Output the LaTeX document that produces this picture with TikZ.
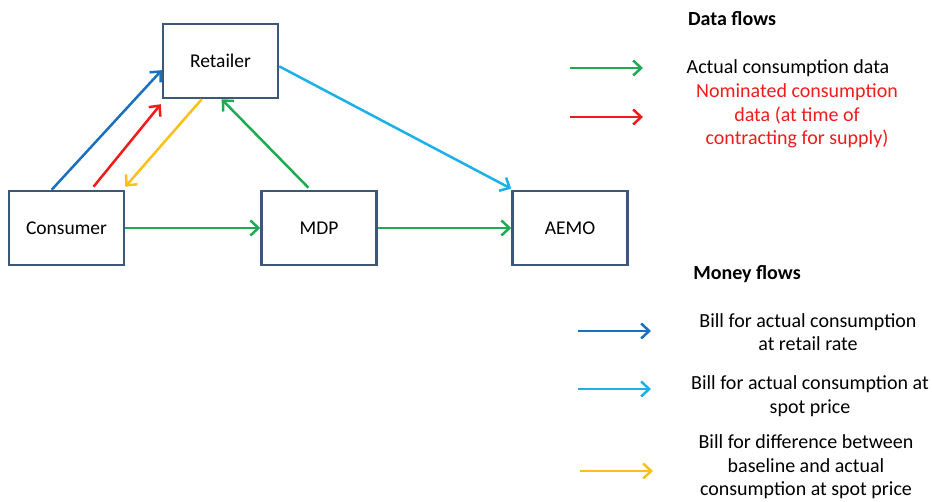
\documentclass[tikz,border=0pt]{standalone}
\usepackage{fontspec}
\setmainfont{Carlito}
\usetikzlibrary{arrows.meta,calc}
\definecolor{boxc}{HTML}{3B5878}
\definecolor{gr}{HTML}{1DAA50}
\definecolor{rd}{HTML}{F01C1C}
\definecolor{yl}{HTML}{F8C01A}
\definecolor{db}{HTML}{1A70BE}
\definecolor{lb}{HTML}{1CB0E8}
\tikzset{
  ent/.style={draw=boxc,line width=2.5pt,minimum width=115pt,minimum height=74pt,inner sep=0pt,font=\fontsize{19.5}{22}\selectfont},
  flow/.style={line width=2.5pt,-{Straight Barb[length=8pt,width=15pt,line width=2.5pt]}},
  lbl/.style={align=center,inner sep=0pt,font=\fontsize{20}{23.5}\selectfont},
  hdr/.style={inner sep=0pt,font=\fontsize{20}{22}\selectfont\bfseries},
}
\begin{document}
\begin{tikzpicture}[x=1pt,y=1pt]
\useasboundingbox (0,0) rectangle (932,502);
% entities
\node[ent] (ret) at (220.5,441) {Retailer};
\node[ent] (cons) at (66.5,274) {Consumer};
\node[ent] (mdp) at (319,274) {MDP};
\node[ent] (aemo) at (570,274) {AEMO};
% connectors
\draw[flow,db] ($(cons.north west)!0.374!(cons.north east)$) -- ($(ret.north west)!0.62!(ret.south west)$);
\draw[flow,rd] ($(cons.north west)!0.73!(cons.north east)+(0,3)$) -- ($(ret.south west)+(-1,-5)$);
\draw[flow,yl] ($(ret.south west)!0.34!(ret.south east)$) -- ($(cons.north east)+(0,3)$);
\draw[flow,gr] ($(mdp.north west)!0.41!(mdp.north east)+(0,2)$) -- ($(ret.south west)!0.51!(ret.south east)$);
\draw[flow,lb] ($(ret.north east)!0.57!(ret.south east)$) -- ($(aemo.north west)+(0,1)$);
\draw[flow,gr] (cons.east) -- (mdp.west);
\draw[flow,gr] (mdp.east) -- (aemo.west);
% legend: data flows
\node[hdr] (hdata) at (732,483) {Data flows};
\coordinate (g1) at (570,434);
\coordinate (g2) at (643,434);
\draw[flow,gr] (g1) -- (g2);
\node[lbl] (tg) at (788,434) {Actual consumption data};
\coordinate (r1) at (570,385);
\coordinate (r2) at (643,385);
\draw[flow,rd] (r1) -- (r2);
\node[lbl,text=rd] (tr) at (797,386) {Nominated consumption\\data (at time of\\contracting for supply)};
% legend: money flows
\node[hdr] (hmoney) at (747,228) {Money flows};
\coordinate (b1) at (578,171);
\coordinate (b2) at (651,171);
\draw[flow,db] (b1) -- (b2);
\node[lbl] (tb) at (808,170) {Bill for actual consumption\\at retail rate};
\coordinate (l1) at (578,113);
\coordinate (l2) at (651,113);
\draw[flow,lb] (l1) -- (l2);
\node[lbl] (tl) at (810,106) {Bill for actual consumption at\\spot price};
\coordinate (y1) at (580,31);
\coordinate (y2) at (653,31);
\draw[flow,yl] (y1) -- (y2);
\node[lbl] (ty) at (806,35) {Bill for difference between\\baseline and actual\\consumption at spot price};
\end{tikzpicture}
\end{document}
